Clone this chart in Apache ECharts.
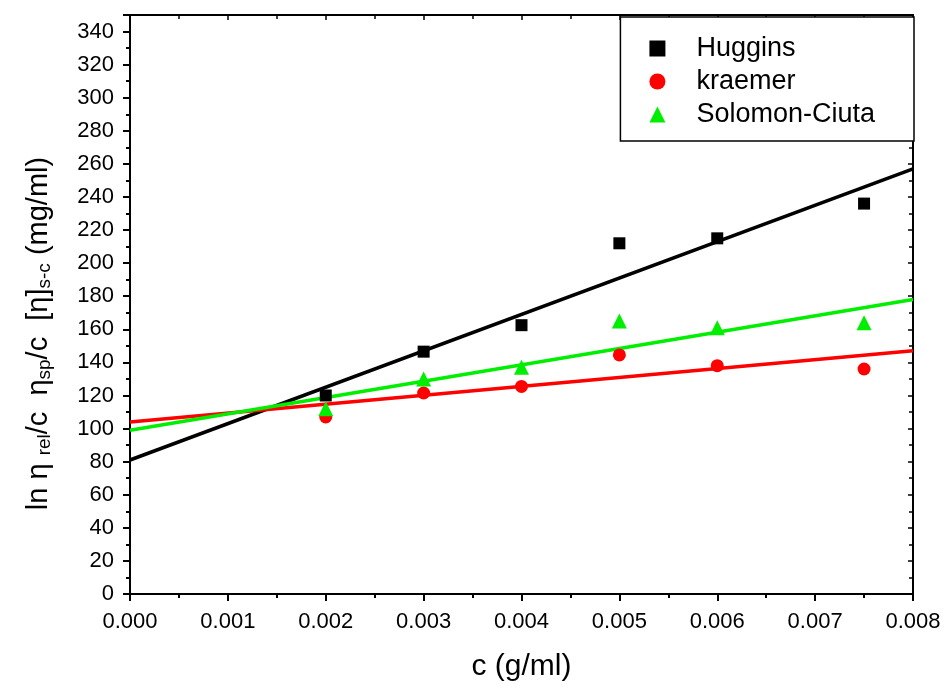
<!DOCTYPE html>
<html><head><meta charset="utf-8">
<script src="https://cdn.jsdelivr.net/npm/echarts@6/dist/echarts.min.js"></script>
<style>html,body{margin:0;padding:0;background:#fff}#c{width:947px;height:688px}</style>
</head><body><div id="c"></div>
<script>
const conc = [0.002, 0.003, 0.004, 0.005, 0.006, 0.0075];
const huggins = [120, 146.5, 162.5, 212, 215, 236];
const kraemer = [107, 121.5, 125.5, 144.5, 138, 136];
const solomon = [112, 130, 137, 165, 161, 164];
const fitX = [0, 0.008];
const hugginsFit = [81, 257];
const kraemerFit = [104, 147];
const solomonFit = [99, 178];
const xTicks = [0, 0.001, 0.002, 0.003, 0.004, 0.005, 0.006, 0.007, 0.008];
const yTicks = [0, 20, 40, 60, 80, 100, 120, 140, 160, 180, 200, 220, 240, 260, 280, 300, 320, 340];

const pair = (xs, ys) => xs.map((x, i) => [x, ys[i]]);
const FONT = 'Liberation Sans, Arial, sans-serif';
const chart = echarts.init(document.getElementById('c'), null, {renderer: 'canvas'});
const axisLineStyle = {color: '#000', width: 2};
chart.setOption({
  animation: false,
  backgroundColor: '#fff',
  grid: {left: 130, right: 34, top: 15, bottom: 94},
  xAxis: [{
    type: 'value', min: 0, max: 0.008, interval: 0.001,
    axisLine: {show: true, onZero: false, lineStyle: axisLineStyle},
    axisTick: {show: true, inside: false, length: 7, lineStyle: {color: '#000', width: 2}},
    minorTick: {show: true, splitNumber: 2, length: 4, lineStyle: {color: '#000', width: 2}},
    splitLine: {show: false},
    axisLabel: {color: '#000', fontSize: 22, fontFamily: FONT, margin: 17,
      formatter: v => (xTicks.some(t => Math.abs(t - v) < 1e-9) ? v.toFixed(3) : '')},
    name: 'c (g/ml)', nameLocation: 'middle', nameGap: 58,
    nameTextStyle: {color: '#000', fontSize: 30, fontFamily: FONT}
  }, {
    type: 'value', position: 'top', min: 0, max: 0.008, interval: 0.001,
    axisLine: {show: true, onZero: false, lineStyle: axisLineStyle},
    axisTick: {show: true, inside: true, length: 5, lineStyle: {color: '#000', width: 1.5}},
    minorTick: {show: true, splitNumber: 2, length: 4, lineStyle: {color: '#000', width: 1.5}},
    splitLine: {show: false}, axisLabel: {show: false}
  }],
  yAxis: [{
    type: 'value', min: 0, max: 350, interval: 20,
    axisLine: {show: true, onZero: false, lineStyle: axisLineStyle},
    axisTick: {show: true, inside: false, length: 7, lineStyle: {color: '#000', width: 2}},
    minorTick: {show: true, splitNumber: 2, length: 4, lineStyle: {color: '#000', width: 2}},
    splitLine: {show: false},
    axisLabel: {color: '#000', fontSize: 22, fontFamily: FONT, margin: 16,
      formatter: v => (yTicks.indexOf(v) >= 0 ? String(v) : '')},
    name: '{m|ln η }{s|rel}{m|/c  η}{s|sp}{m|/c  [η]}{s|s-c}{m| (mg/ml)}{g| }',
    nameLocation: 'middle', nameRotate: 90, nameGap: 76,
    nameTextStyle: {color: '#000', fontFamily: FONT, fontSize: 29,
      rich: {
        m: {fontSize: 29, fontFamily: FONT, color: '#000', lineHeight: 30, verticalAlign: 'top'},
        s: {fontSize: 19, fontFamily: FONT, color: '#000', lineHeight: 20, verticalAlign: 'bottom', padding: [23, 0, 0, 0]},
        g: {fontSize: 10, width: 58, lineHeight: 10}
      }}
  }, {
    type: 'value', position: 'right', min: 0, max: 350, interval: 20,
    axisLine: {show: true, onZero: false, lineStyle: axisLineStyle},
    axisTick: {show: true, inside: true, length: 5, lineStyle: {color: '#000', width: 1.5}},
    minorTick: {show: true, splitNumber: 2, length: 4, lineStyle: {color: '#000', width: 1.5}},
    splitLine: {show: false}, axisLabel: {show: false}
  }],
  legend: {
    right: 33, top: 17, orient: 'vertical',
    data: ['Huggins', 'kraemer', 'Solomon-Ciuta'],
    borderColor: '#000', borderWidth: 1.5, backgroundColor: '#fff',
    padding: [18, 39, 13, 29], itemGap: 6, itemWidth: 16, itemHeight: 16,
    textStyle: {color: '#000', fontSize: 27, fontFamily: FONT, lineHeight: 24, padding: [0, 0, 0, 26]}
  },
  series: [
    {name: 'Huggins-fit', type: 'line', data: pair(fitX, hugginsFit), showSymbol: false, symbol: 'none',
      lineStyle: {color: '#000', width: 3.5}, itemStyle: {color: '#000'}, z: 2},
    {name: 'kraemer-fit', type: 'line', data: pair(fitX, kraemerFit), showSymbol: false, symbol: 'none',
      lineStyle: {color: '#ff0000', width: 3.5}, itemStyle: {color: '#ff0000'}, z: 2},
    {name: 'Solomon-fit', type: 'line', data: pair(fitX, solomonFit), showSymbol: false, symbol: 'none',
      lineStyle: {color: '#00ee00', width: 3.5}, itemStyle: {color: '#00ee00'}, z: 2},
    {name: 'Huggins', type: 'scatter', data: pair(conc, huggins), symbol: 'rect', symbolSize: 12,
      itemStyle: {color: '#000', opacity: 1}, z: 3},
    {name: 'kraemer', type: 'scatter', data: pair(conc, kraemer), symbol: 'circle', symbolSize: 13,
      itemStyle: {color: '#ff0000', opacity: 1}, z: 3},
    {name: 'Solomon-Ciuta', type: 'scatter', data: pair(conc, solomon), symbol: 'triangle', symbolSize: 15,
      itemStyle: {color: '#00ee00', opacity: 1}, z: 3}
  ]
});
</script></body></html>
